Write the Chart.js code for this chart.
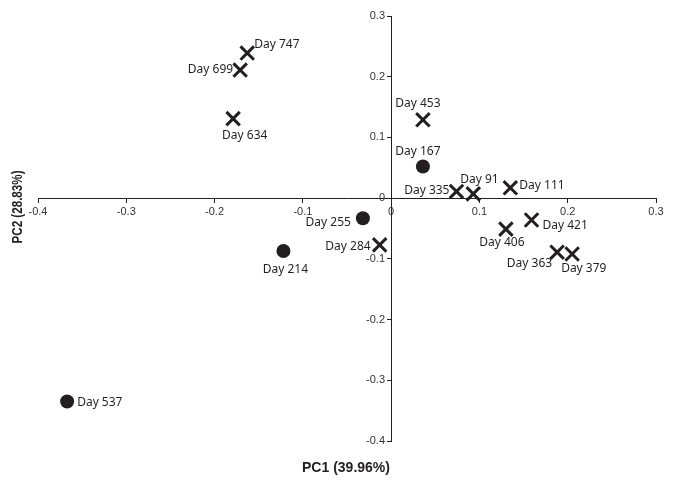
<!DOCTYPE html>
<html>
<head>
<meta charset="utf-8">
<script src="https://cdn.jsdelivr.net/npm/chart.js@4"></script>
<style>
  html, body { margin: 0; padding: 0; background: #fff; }
  #wrap { width: 676px; height: 488px; }
</style>
</head>
<body>
<div id="wrap"><canvas id="pcaChart" width="676" height="488"></canvas></div>
<script>
// PCA scores - samples shown as crosses
const crossDays = ["Day 747", "Day 699", "Day 634", "Day 453", "Day 335", "Day 91",
  "Day 111", "Day 421", "Day 406", "Day 363", "Day 379", "Day 284"];
const crossPC1 = [-0.163, -0.171, -0.179, 0.036, 0.074, 0.093, 0.135, 0.159, 0.130, 0.188, 0.205, -0.013];
const crossPC2 = [0.239, 0.211, 0.131, 0.129, 0.011, 0.007, 0.017, -0.036, -0.051, -0.089, -0.092, -0.077];

// PCA scores - samples shown as filled circles
const circleDays = ["Day 167", "Day 255", "Day 214", "Day 537"];
const circlePC1 = [0.036, -0.032, -0.122, -0.367];
const circlePC2 = [0.052, -0.033, -0.087, -0.335];

const xTicks = [-0.4, -0.3, -0.2, -0.1, 0, 0.1, 0.2, 0.3];
const yTicks = [-0.4, -0.3, -0.2, -0.1, 0, 0.1, 0.2, 0.3];

// where each "Day" label sits relative to its marker: [dx, dy, align]
const labelPlace = {
  "Day 747": [7, -8, "left"], "Day 699": [-7, 0, "right"], "Day 634": [-11, 17, "left"],
  "Day 453": [-5, -16, "center"], "Day 335": [-7, -1, "right"], "Day 91": [-13, -14, "left"],
  "Day 111": [9, -2, "left"], "Day 421": [11, 6, "left"], "Day 406": [-4, 13, "center"],
  "Day 363": [-5, 11, "right"], "Day 379": [-11, 15, "left"], "Day 284": [-9, 2, "right"],
  "Day 167": [-5, -15, "center"], "Day 255": [-12, 4, "right"], "Day 214": [2, 19, "center"],
  "Day 537": [10, 1, "left"]
};

const ink = "#231f20";

function toPoints(xs, ys) {
  return xs.map((x, i) => ({ x: x, y: ys[i] }));
}

// labels next to the markers
const dayLabels = {
  id: "dayLabels",
  afterDatasetsDraw(chart) {
    const ctx = chart.ctx;
    ctx.save();
    ctx.font = "12px 'Noto Sans'";
    ctx.fillStyle = ink;
    ctx.textBaseline = "middle";
    chart.data.datasets.forEach((ds, di) => {
      const meta = chart.getDatasetMeta(di);
      meta.data.forEach((pt, i) => {
        const name = ds.names[i];
        const p = labelPlace[name] || [8, 0, "left"];
        ctx.textAlign = p[2];
        ctx.fillText(name, pt.x + p[0], pt.y + p[1]);
      });
    });
    ctx.restore();
  }
};

// axis titles sit outside the plot, not on the centred axes
const axisTitles = {
  id: "axisTitles",
  afterDraw(chart) {
    const ctx = chart.ctx;
    ctx.save();
    ctx.fillStyle = ink;
    ctx.font = "bold 14px 'Liberation Sans'";
    ctx.textAlign = "center";
    ctx.textBaseline = "middle";
    ctx.fillText("PC1 (39.96%)", 346, 468);
    ctx.translate(18, 207);
    ctx.rotate(-Math.PI / 2);
    ctx.fillText("PC2 (28.83%)", 0, 0, 73);
    ctx.restore();
  }
};

function centredAxis(ticks, isX) {
  return {
    type: "linear",
    min: ticks[0],
    max: ticks[ticks.length - 1],
    position: isX ? { y: 0 } : { x: 0 },
    afterBuildTicks: (scale) => { scale.ticks = ticks.map(v => ({ value: v })); },
    afterFit: (scale) => {
      if (isX) scale.height = 0; else scale.width = 0;
    },
    border: { display: true, color: ink, width: 1 },
    grid: { drawOnChartArea: false, drawTicks: true, tickLength: 4, color: ink },
    ticks: {
      color: "#333",
      padding: 3,
      font: { family: "'Liberation Sans'", size: 11 },
      maxRotation: 0,
      autoSkip: false,
      // centred y labels are right-aligned on the axis itself, so pad them off it
      callback: (v) => String(Math.round(v * 10) / 10) + (isX ? "" : "  ")
    }
  };
}

new Chart(document.getElementById("pcaChart"), {
  type: "scatter",
  data: {
    datasets: [
      {
        label: "crosses",
        names: crossDays,
        data: toPoints(crossPC1, crossPC2),
        pointStyle: "crossRot",
        pointRadius: 9.5,
        pointBorderWidth: 3,
        borderColor: ink,
        backgroundColor: ink
      },
      {
        label: "circles",
        names: circleDays,
        data: toPoints(circlePC1, circlePC2),
        pointStyle: "circle",
        pointRadius: 7,
        pointBorderWidth: 0,
        borderColor: ink,
        backgroundColor: ink
      }
    ]
  },
  options: {
    responsive: false,
    animation: false,
    layout: { padding: { left: 38, right: 20, top: 16, bottom: 47 } },
    plugins: {
      legend: { display: false },
      tooltip: { enabled: false }
    },
    scales: {
      x: centredAxis(xTicks, true),
      y: centredAxis(yTicks, false)
    }
  },
  plugins: [dayLabels, axisTitles]
});
</script>
</body>
</html>
